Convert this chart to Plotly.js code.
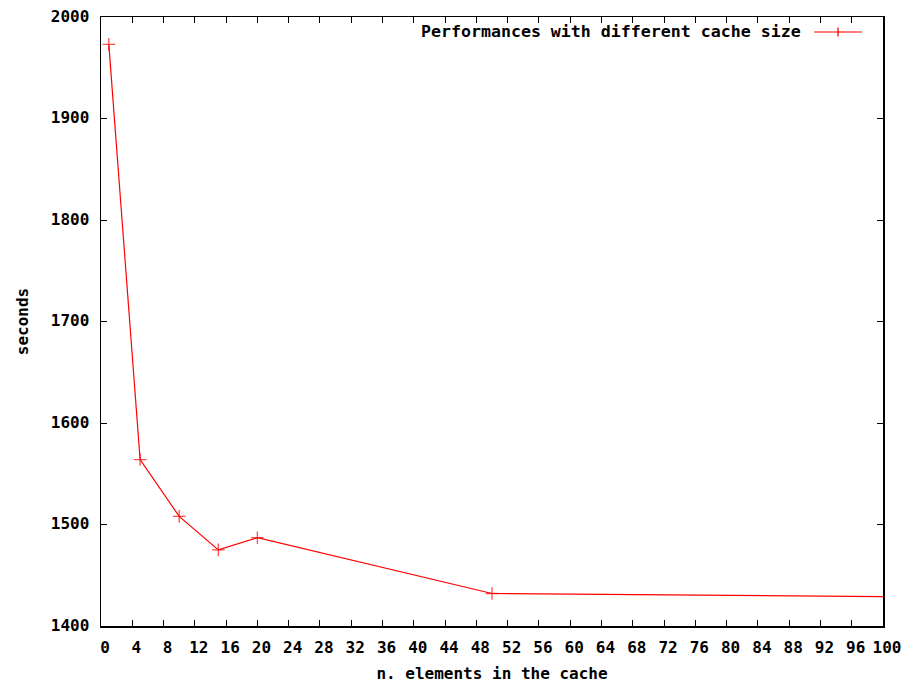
<!DOCTYPE html>
<html>
<head>
<meta charset="utf-8">
<script src="https://cdn.plot.ly/plotly-3.0.1.min.js"></script>
<style>html,body{margin:0;padding:0;background:#fff;}#chart{width:906px;height:688px;}</style>
</head>
<body>
<div id="chart"></div>
<script>
const cacheSize = [1, 5, 10, 15, 20, 50, 100];
const seconds = [1973, 1564, 1508, 1475, 1487, 1432, 1429];
const markerSizes = [9, 9, 9, 9, 9, 9, 0];
const seriesName = 'Performances with different cache size';
const xTitle = 'n. elements in the cache';
const yTitle = 'seconds';

const fontFam = '"DejaVu Sans Mono", "Liberation Mono", monospace';
const baseFont = {family: fontFam, size: 16, color: '#000', weight: 'bold'};
const legFont = {family: fontFam, size: 16.6, color: '#000', weight: 'bold'};

const trace = {
  x: cacheSize, y: seconds, type: 'scatter', mode: 'lines+markers', name: seriesName,
  line: {color: '#ff0000', width: 1.2},
  marker: {symbol: 'cross-thin', size: markerSizes, color: '#ff0000', line: {color: '#ff0000', width: 1.3}},
  cliponaxis: true, showlegend: false
};

// legend drawn gnuplot-style: text on the left, sample on the right
const lx0 = 0.9118, lx1 = 0.9731, ly = 0.9754;
const lxc = (lx0 + lx1) / 2;

const layout = {
  width: 906, height: 688,
  margin: {l: 101, r: 23, t: 17, b: 62, pad: 0},
  paper_bgcolor: '#fff', plot_bgcolor: '#fff',
  font: baseFont,
  showlegend: false,
  xaxis: {
    range: [0, 100], dtick: 4, tick0: 0, showgrid: false, zeroline: false,
    ticks: 'inside', ticklen: 6, tickwidth: 1, tickcolor: '#000',
    showline: true, linecolor: '#000', linewidth: 1.5, mirror: 'allticks',
    tickfont: baseFont, ticklabelstandoff: 6, ticklabelshift: 4,
    title: {text: xTitle, font: baseFont, standoff: 12}
  },
  yaxis: {
    range: [1400, 2000], dtick: 100, tick0: 1400, showgrid: false, zeroline: false,
    ticks: 'inside', ticklen: 6, tickwidth: 1, tickcolor: '#000',
    showline: true, linecolor: '#000', linewidth: 1.5, mirror: 'allticks',
    tickfont: baseFont, ticklabelstandoff: 7, ticklabelshift: -1,
    title: {text: yTitle, font: baseFont, standoff: 18}
  },
  annotations: [{
    xref: 'paper', yref: 'paper', x: 0.8977, y: ly, xanchor: 'right', yanchor: 'middle',
    text: seriesName, showarrow: false, font: legFont
  }],
  shapes: [
    {type: 'line', xref: 'paper', yref: 'paper', x0: lx0, x1: lx1, y0: ly, y1: ly, line: {color: '#ff0000', width: 1.2}},
    {type: 'line', xref: 'paper', yref: 'paper', x0: lxc, x1: lxc, y0: ly - 0.0074, y1: ly + 0.0074, line: {color: '#ff0000', width: 1.3}}
  ]
};

Plotly.newPlot('chart', [trace], layout, {displayModeBar: false, staticPlot: true});
</script>
</body>
</html>
